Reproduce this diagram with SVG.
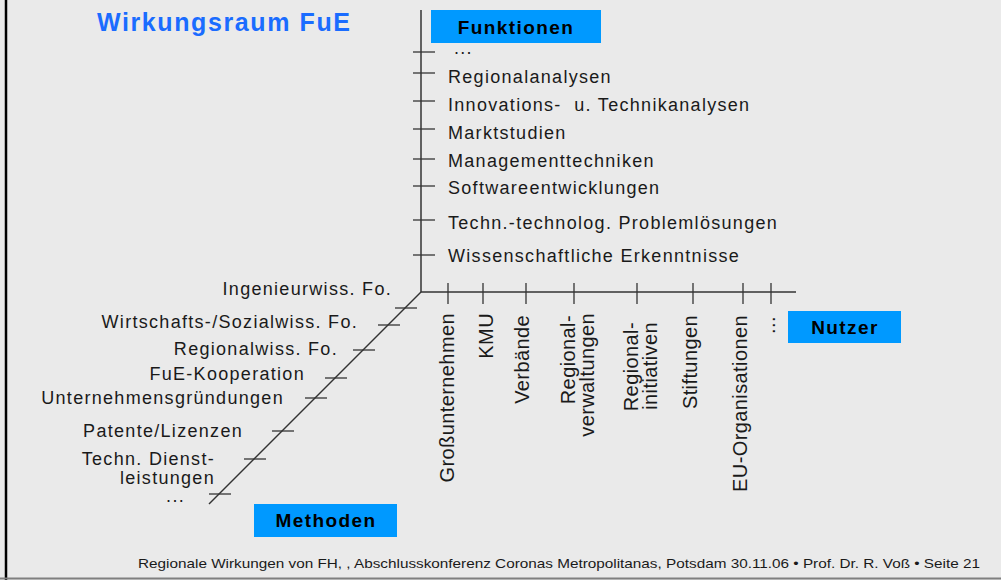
<svg xmlns="http://www.w3.org/2000/svg" width="1001" height="580" viewBox="0 0 1001 580">
<style>
.bg{fill:#eaeaea}
.ax{stroke:#333;stroke-width:1.5;fill:none}
.tk{stroke:#333;stroke-width:1.3;fill:none}
.lbl{font-family:"Liberation Sans",Arial,sans-serif;font-size:18px;letter-spacing:1.3px;fill:#1a1a1a}
.rl{font-family:"Liberation Sans",Arial,sans-serif;font-size:20px;letter-spacing:0.4px;fill:#1a1a1a;text-anchor:end}
.box{fill:#0099ff}
.bt{font-family:"Liberation Sans",Arial,sans-serif;font-size:19px;font-weight:bold;letter-spacing:1.4px;fill:#000;text-anchor:middle}
.end{text-anchor:end}
</style>
<rect class="bg" x="0" y="0" width="1001" height="580"/>
<line x1="6" y1="0" x2="6" y2="580" stroke="#000" stroke-width="2.5"/>
<line x1="0" y1="578.5" x2="1001" y2="578.5" stroke="#7f7f7f" stroke-width="2"/>

<g id="title">
<text x="97" y="31" font-family="'Liberation Sans',Arial,sans-serif" font-size="25" font-weight="bold" letter-spacing="1.6" fill="#1a6cff">Wirkungsraum FuE</text>
</g>

<g id="connectors">
<line class="ax" x1="421" y1="10" x2="421" y2="292"/>
<line class="ax" x1="421" y1="292" x2="796" y2="292"/>
<line class="ax" x1="421" y1="292" x2="209" y2="504" stroke-width="1.3"/>
<g class="tk">
<line x1="413" y1="52" x2="435" y2="52"/>
<line x1="413" y1="73" x2="435" y2="73"/>
<line x1="413" y1="101" x2="435" y2="101"/>
<line x1="413" y1="129" x2="435" y2="129"/>
<line x1="413" y1="159" x2="435" y2="159"/>
<line x1="413" y1="186" x2="435" y2="186"/>
<line x1="413" y1="220" x2="435" y2="220"/>
<line x1="413" y1="255" x2="435" y2="255"/>
<line x1="448" y1="283" x2="448" y2="304"/>
<line x1="483" y1="283" x2="483" y2="304"/>
<line x1="526" y1="283" x2="526" y2="304"/>
<line x1="574" y1="283" x2="574" y2="304"/>
<line x1="637" y1="283" x2="637" y2="304"/>
<line x1="693" y1="283" x2="693" y2="304"/>
<line x1="743" y1="283" x2="743" y2="304"/>
<line x1="771" y1="283" x2="771" y2="304"/>
<line x1="395" y1="308" x2="417" y2="308"/>
<line x1="378" y1="325" x2="400" y2="325"/>
<line x1="353" y1="350" x2="375" y2="350"/>
<line x1="325" y1="378" x2="347" y2="378"/>
<line x1="305" y1="398" x2="327" y2="398"/>
<line x1="272" y1="431" x2="294" y2="431"/>
<line x1="244" y1="459" x2="266" y2="459"/>
<line x1="209" y1="494" x2="231" y2="494"/>
</g>
</g>

<g id="axis-funktionen">
<rect class="box" x="431" y="10" width="170" height="33"/>
<text class="bt" x="516" y="34">Funktionen</text>
</g>
<g id="axis-nutzer">
<rect class="box" x="788" y="311" width="113" height="32"/>
<text class="bt" x="845" y="334">Nutzer</text>
</g>
<g id="axis-methoden">
<rect class="box" x="254" y="504" width="143" height="33"/>
<text class="bt" x="326" y="527">Methoden</text>
</g>

<g id="funktionen-items">
<g id="f-more"><text class="lbl" x="454" y="54">...</text></g>
<g id="f-regionalanalysen"><text class="lbl" x="448" y="83">Regionalanalysen</text></g>
<g id="f-innovation"><text class="lbl" x="448" y="111">Innovations-&#160; u. Technikanalysen</text></g>
<g id="f-markt"><text class="lbl" x="448" y="139">Marktstudien</text></g>
<g id="f-management"><text class="lbl" x="448" y="167">Managementtechniken</text></g>
<g id="f-software"><text class="lbl" x="448" y="194">Softwareentwicklungen</text></g>
<g id="f-techn"><text class="lbl" x="448" y="229" letter-spacing="1.5">Techn.-technolog. Problemlösungen</text></g>
<g id="f-wiss"><text class="lbl" x="448" y="262">Wissenschaftliche Erkenntnisse</text></g>
</g>

<g id="methoden-items">
<g id="m-ing"><text class="lbl end" x="392" y="295">Ingenieurwiss. Fo.</text></g>
<g id="m-wirt"><text class="lbl end" x="358" y="328">Wirtschafts-/Sozialwiss. Fo.</text></g>
<g id="m-reg"><text class="lbl end" x="338" y="355">Regionalwiss. Fo.</text></g>
<g id="m-fue"><text class="lbl end" x="305" y="380">FuE-Kooperation</text></g>
<g id="m-unt"><text class="lbl end" x="284" y="404" letter-spacing="1.6">Unternehmensgründungen</text></g>
<g id="m-pat"><text class="lbl end" x="243" y="437">Patente/Lizenzen</text></g>
<g id="m-dienst"><text class="lbl end" x="215" y="465">Techn. Dienst-</text><text class="lbl end" x="215" y="484">leistungen</text></g>
<g id="m-more"><text class="lbl end" x="185" y="502" font-size="12" letter-spacing="4.2">...</text></g>
</g>

<g id="nutzer-items">
<g id="n-gross"><text class="rl" transform="translate(454,313) rotate(-90)">Großunternehmen</text></g>
<g id="n-kmu"><text class="rl" transform="translate(493,313) rotate(-90)">KMU</text></g>
<g id="n-verb"><text class="rl" transform="translate(529,315) rotate(-90)">Verbände</text></g>
<g id="n-regverw"><text class="rl" transform="translate(575,315) rotate(-90)">Regional-</text><text class="rl" transform="translate(594,313) rotate(-90)">verwaltungen</text></g>
<g id="n-reginit"><text class="rl" transform="translate(638,322) rotate(-90)">Regional-</text><text class="rl" transform="translate(657,322) rotate(-90)">initiativen</text></g>
<g id="n-stift"><text class="rl" transform="translate(697,315) rotate(-90)">Stiftungen</text></g>
<g id="n-eu"><text class="rl" transform="translate(747,315) rotate(-90)">EU-Organisationen</text></g>
<g id="n-more"><text class="rl" transform="translate(775,316) rotate(-90)" font-size="16" letter-spacing="2">...</text></g>
</g>

<g id="footer">
<text x="138" y="568" font-family="'Liberation Sans',Arial,sans-serif" font-size="13" fill="#1a1a1a" textLength="842" lengthAdjust="spacingAndGlyphs">Regionale Wirkungen von FH, , Abschlusskonferenz Coronas Metropolitanas, Potsdam 30.11.06 • Prof. Dr. R. Voß •  Seite 21</text>
</g>
</svg>
